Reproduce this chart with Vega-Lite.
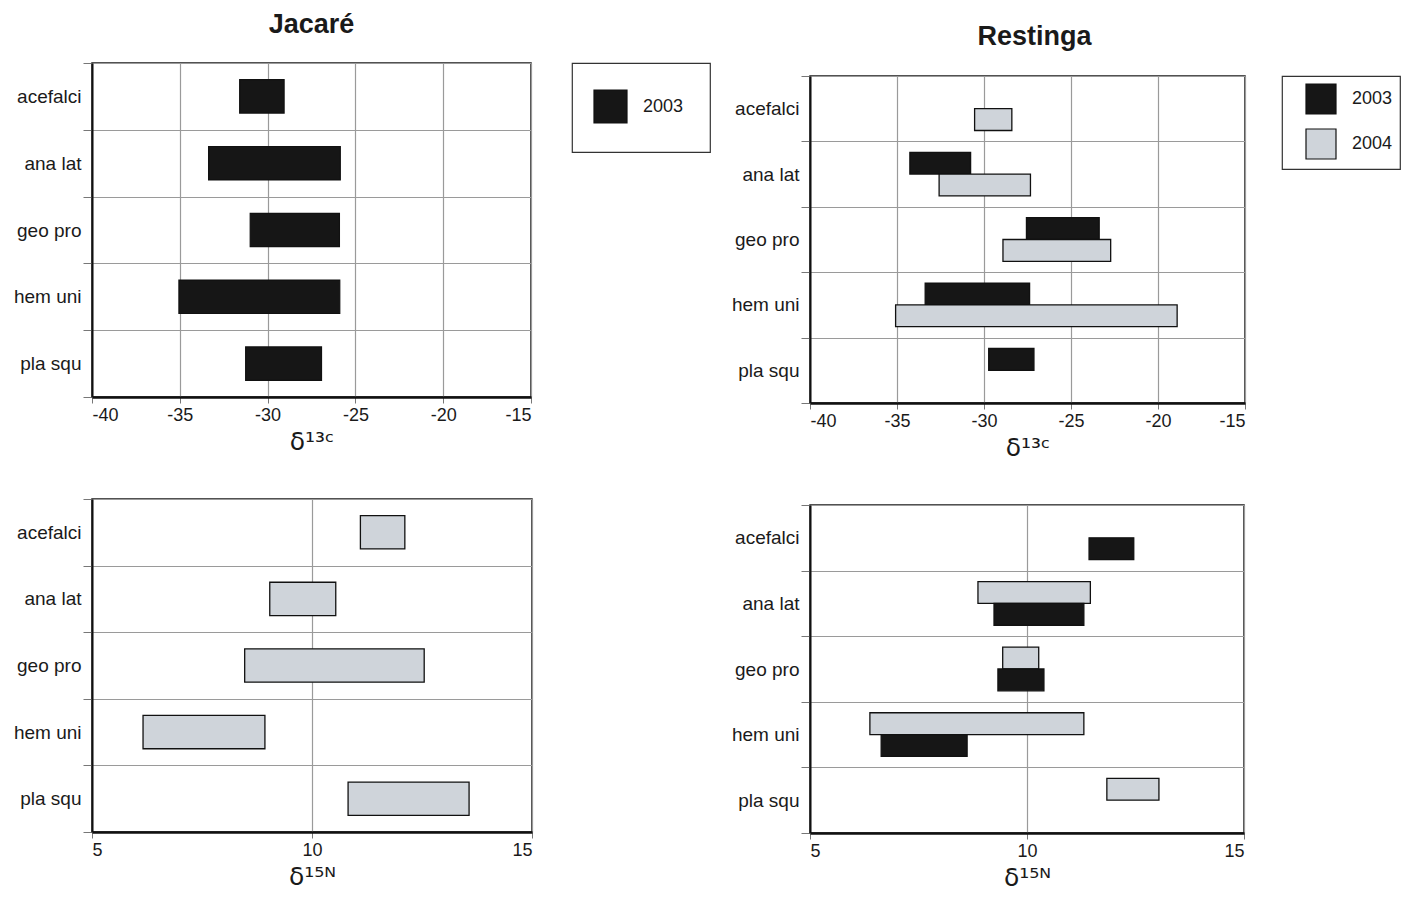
{
  "$schema": "https://vega.github.io/schema/vega-lite/v6.json",
  "background": "white",
  "padding": {"left": 12, "top": 10, "right": 0, "bottom": 0},
  "config": {
    "font": "Liberation Sans",
    "view": {"stroke": "#1a1a1a", "strokeWidth": 1.5},
    "axis": {
      "labelFont": "Liberation Sans",
      "labelFontSize": 18,
      "labelColor": "#1a1a1a",
      "gridColor": "#9a9a9a",
      "gridWidth": 1.2,
      "gridOpacity": 1,
      "tickColor": "#777777",
      "titleFont": "DejaVu Sans",
      "titleFontWeight": "normal",
      "titleFontSize": 25,
      "titleColor": "#1a1a1a"
    },
    "axisX": {"domain": true, "domainColor": "#111111", "domainWidth": 2.5, "tickSize": 6, "labelPadding": 3, "titlePadding": 5},
    "axisY": {"domain": true, "domainColor": "#111111", "domainWidth": 2, "tickSize": 9, "labelPadding": 2, "labelFontSize": 19},
    "legend": {
      "title": null,
      "orient": "right",
      "strokeColor": "#333333",
      "strokeWidth": 1.2,
      "symbolType": "square",
      "symbolStrokeColor": "#111111",
      "symbolStrokeWidth": 1.2,
      "labelFont": "Liberation Sans",
      "labelFontSize": 18,
      "labelColor": "#1a1a1a",
      "labelOffset": 15
    }
  },
  "datasets": {
    "jacare_c": [
      {"species": "acefalci", "year": "2003", "lo": -31.59, "hi": -29.06},
      {"species": "ana lat", "year": "2003", "lo": -33.36, "hi": -25.86},
      {"species": "geo pro", "year": "2003", "lo": -30.99, "hi": -25.91},
      {"species": "hem uni", "year": "2003", "lo": -35.05, "hi": -25.89},
      {"species": "pla squ", "year": "2003", "lo": -31.25, "hi": -26.93}
    ],
    "jacare_n": [
      {"species": "acefalci", "year": "2003", "lo": 11.1, "hi": 12.11},
      {"species": "ana lat", "year": "2003", "lo": 9.04, "hi": 10.54},
      {"species": "geo pro", "year": "2003", "lo": 8.47, "hi": 12.55},
      {"species": "hem uni", "year": "2003", "lo": 6.16, "hi": 8.93},
      {"species": "pla squ", "year": "2003", "lo": 10.82, "hi": 13.57}
    ],
    "restinga_c": [
      {"species": "acefalci", "year": "2004", "lo": -30.54, "hi": -28.4},
      {"species": "ana lat", "year": "2003", "lo": -34.26, "hi": -30.77},
      {"species": "ana lat", "year": "2004", "lo": -32.58, "hi": -27.33},
      {"species": "geo pro", "year": "2003", "lo": -27.56, "hi": -23.38},
      {"species": "geo pro", "year": "2004", "lo": -28.91, "hi": -22.72},
      {"species": "hem uni", "year": "2003", "lo": -33.38, "hi": -27.38},
      {"species": "hem uni", "year": "2004", "lo": -35.08, "hi": -18.9},
      {"species": "pla squ", "year": "2003", "lo": -29.73, "hi": -27.13}
    ],
    "restinga_n": [
      {"species": "acefalci", "year": "2003", "lo": 11.43, "hi": 12.46},
      {"species": "ana lat", "year": "2004", "lo": 8.87, "hi": 11.46},
      {"species": "ana lat", "year": "2003", "lo": 9.24, "hi": 11.31},
      {"species": "geo pro", "year": "2004", "lo": 9.44, "hi": 10.27},
      {"species": "geo pro", "year": "2003", "lo": 9.33, "hi": 10.39},
      {"species": "hem uni", "year": "2004", "lo": 6.38, "hi": 11.31},
      {"species": "hem uni", "year": "2003", "lo": 6.64, "hi": 8.62},
      {"species": "pla squ", "year": "2004", "lo": 11.84, "hi": 13.04}
    ]
  },
  "spacing": 18,
  "resolve": {
    "scale": {"x": "independent", "y": "independent", "color": "independent", "yOffset": "independent"},
    "legend": {"color": "independent"}
  },
  "hconcat": [
    {
      "spacing": 13,
      "vconcat": [
        {
          "width": 439,
          "height": 30,
          "view": {"stroke": null},
          "data": {"values": [{"site": "Jacaré"}]},
          "mark": {"type": "text", "font": "Liberation Sans", "fontSize": 27, "fontWeight": "bold", "color": "#1a1a1a", "baseline": "middle", "align": "center"},
          "encoding": {"text": {"field": "site", "type": "nominal"}}
        },
        {
          "spacing": 34,
          "resolve": {
            "scale": {"x": "independent", "y": "independent", "color": "independent", "yOffset": "independent"},
            "legend": {"color": "independent"}
          },
          "vconcat": [
            {
              "width": 439,
              "height": 334,
              "data": {"name": "jacare_c"},
              "mark": {"type": "bar", "stroke": "#111111", "strokeWidth": 1.2},
              "encoding": {
                "y": {
                  "field": "species", "type": "nominal",
                  "sort": ["acefalci", "ana lat", "geo pro", "hem uni", "pla squ"],
                  "scale": {"padding": 0},
                  "axis": {"title": null, "grid": true, "tickBand": "extent"}
                },
                "yOffset": {
                  "field": "year", "type": "nominal",
                  "scale": {"domain": ["2003"], "paddingInner": 0, "paddingOuter": 0.5}
                },
                "x": {
                  "field": "lo", "type": "quantitative",
                  "scale": {"domain": [-40, -15], "nice": false, "zero": false},
                  "axis": {"title": "δ¹³ᶜ", "grid": true, "values": [-40, -35, -30, -25, -20, -15], "labelExpr": "'' + datum.value"}
                },
                "x2": {"field": "hi"},
                "color": {
                  "field": "year", "type": "nominal",
                  "scale": {"domain": ["2003"], "range": ["#161616"]},
                  "legend": {"offset": 41, "padding": 26, "symbolOffset": -5, "symbolSize": 1089}
                }
              }
            },
            {
              "width": 440,
              "height": 333,
              "data": {"name": "jacare_n"},
              "mark": {"type": "bar", "fill": "#cfd4da", "stroke": "#111111", "strokeWidth": 1.3},
              "encoding": {
                "y": {
                  "field": "species", "type": "nominal",
                  "sort": ["acefalci", "ana lat", "geo pro", "hem uni", "pla squ"],
                  "scale": {"padding": 0},
                  "axis": {"title": null, "grid": true, "tickBand": "extent"}
                },
                "yOffset": {
                  "field": "year", "type": "nominal",
                  "scale": {"domain": ["2003"], "paddingInner": 0, "paddingOuter": 0.5}
                },
                "x": {
                  "field": "lo", "type": "quantitative",
                  "scale": {"domain": [5, 15], "nice": false, "zero": false},
                  "axis": {"title": "δ¹⁵ᴺ", "grid": true, "values": [5, 10, 15], "labelExpr": "'' + datum.value"}
                },
                "x2": {"field": "hi"}
              }
            }
          ]
        }
      ]
    },
    {
      "spacing": 2,
      "vconcat": [
        {
          "width": 435,
          "height": 54,
          "view": {"stroke": null},
          "data": {"values": [{"site": "Restinga"}]},
          "mark": {"type": "text", "font": "Liberation Sans", "fontSize": 27, "fontWeight": "bold", "color": "#1a1a1a", "baseline": "middle", "align": "center", "dx": 7},
          "encoding": {"text": {"field": "site", "type": "nominal"}}
        },
        {
          "spacing": 34,
          "resolve": {
            "scale": {"x": "independent", "y": "independent", "color": "independent", "yOffset": "independent"},
            "legend": {"color": "independent"}
          },
          "vconcat": [
            {
              "width": 435,
              "height": 327,
              "data": {"name": "restinga_c"},
              "mark": {"type": "bar", "stroke": "#111111", "strokeWidth": 1.3},
              "encoding": {
                "y": {
                  "field": "species", "type": "nominal",
                  "sort": ["acefalci", "ana lat", "geo pro", "hem uni", "pla squ"],
                  "scale": {"padding": 0},
                  "axis": {"title": null, "grid": true, "tickBand": "extent"}
                },
                "yOffset": {
                  "field": "year", "type": "nominal",
                  "scale": {"domain": ["2003", "2004"], "paddingInner": 0, "paddingOuter": 0.5}
                },
                "x": {
                  "field": "lo", "type": "quantitative",
                  "scale": {"domain": [-40, -15], "nice": false, "zero": false},
                  "axis": {"title": "δ¹³ᶜ", "grid": true, "values": [-40, -35, -30, -25, -20, -15], "labelExpr": "'' + datum.value"}
                },
                "x2": {"field": "hi"},
                "color": {
                  "field": "year", "type": "nominal",
                  "scale": {"domain": ["2003", "2004"], "range": ["#161616", "#cfd4da"]},
                  "legend": {"offset": 37, "padding": 7, "symbolOffset": 16, "symbolSize": 900, "rowPadding": 9}
                }
              }
            },
            {
              "width": 434,
              "height": 328,
              "data": {"name": "restinga_n"},
              "mark": {"type": "bar", "stroke": "#111111", "strokeWidth": 1.3},
              "encoding": {
                "y": {
                  "field": "species", "type": "nominal",
                  "sort": ["acefalci", "ana lat", "geo pro", "hem uni", "pla squ"],
                  "scale": {"padding": 0},
                  "axis": {"title": null, "grid": true, "tickBand": "extent"}
                },
                "yOffset": {
                  "field": "year", "type": "nominal",
                  "scale": {"domain": ["2004", "2003"], "paddingInner": 0, "paddingOuter": 0.5}
                },
                "x": {
                  "field": "lo", "type": "quantitative",
                  "scale": {"domain": [5, 15], "nice": false, "zero": false},
                  "axis": {"title": "δ¹⁵ᴺ", "grid": true, "values": [5, 10, 15], "labelExpr": "'' + datum.value"}
                },
                "x2": {"field": "hi"},
                "color": {
                  "field": "year", "type": "nominal",
                  "scale": {"domain": ["2003", "2004"], "range": ["#161616", "#cfd4da"]},
                  "legend": null
                }
              }
            }
          ]
        }
      ]
    }
  ]
}
